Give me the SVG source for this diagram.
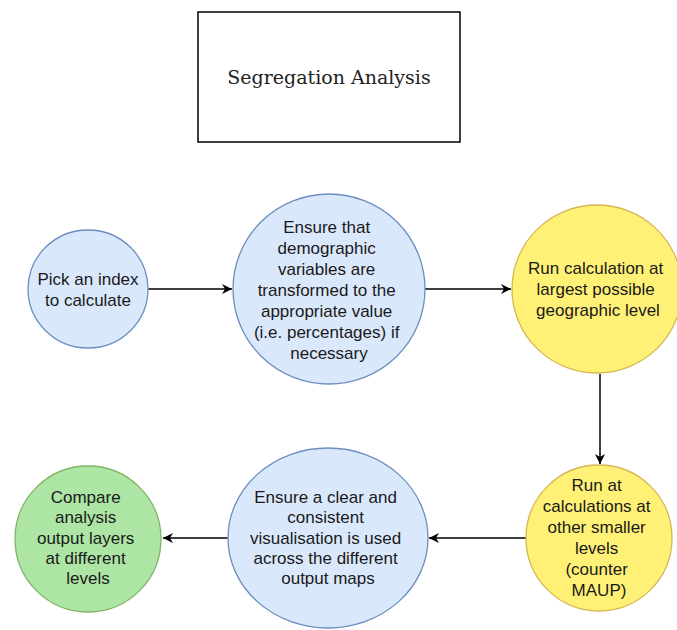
<svg xmlns="http://www.w3.org/2000/svg" width="677" height="630" viewBox="0 0 677 630">
  <style>
    .lbl { font-family: "Liberation Sans", Arial, sans-serif; font-size: 17px; fill: #1a1a1a; text-anchor: middle; }
    .blue { fill: #dae8fc; stroke: #6c8ebf; stroke-width: 1.3; }
    .yellow { fill: #fff176; stroke: #d6b656; stroke-width: 1.3; }
    .green { fill: #ade5a4; stroke: #82b366; stroke-width: 1.3; }
    .edge { fill: none; stroke: #000; stroke-width: 1.5; marker-end: url(#arrow); }
  </style>
  <defs>
    <marker id="arrow" markerUnits="userSpaceOnUse" markerWidth="12" markerHeight="10" refX="10" refY="5" orient="auto">
      <path d="M0,0 L10,5 L0,10 L3,5 Z" fill="#000"/>
    </marker>
  </defs>
  <rect width="677" height="630" fill="#fff"/>

  <g id="title">
    <rect x="198" y="12" width="262" height="130" fill="#fff" stroke="#000" stroke-width="1.5"/>
    <text x="329" y="84" font-family="'DejaVu Serif', Georgia, serif" font-size="19" fill="#222" text-anchor="middle">Segregation Analysis</text>
  </g>

  <g id="connectors">
    <path class="edge" d="M147,289 L232,289"/>
    <path class="edge" d="M424,289 L511,289"/>
    <path class="edge" d="M600,374 L600,464"/>
    <path class="edge" d="M526,538 L429,538"/>
    <path class="edge" d="M228,538 L163,538"/>
  </g>

  <g id="pick-index">
    <ellipse class="blue" cx="88" cy="289" rx="60" ry="59"/>
    <text class="lbl"><tspan x="88" y="285">Pick an index</tspan><tspan x="88" y="306">to calculate</tspan></text>
  </g>

  <g id="ensure-transform">
    <ellipse class="blue" cx="329" cy="289" rx="96" ry="95"/>
    <text class="lbl">
      <tspan x="329" y="233">Ensure that</tspan>
      <tspan x="329" y="254">demographic</tspan>
      <tspan x="329" y="275">variables are</tspan>
      <tspan x="329" y="296">transformed to the</tspan>
      <tspan x="329" y="317">appropriate value</tspan>
      <tspan x="329" y="338">(i.e. percentages) if</tspan>
      <tspan x="329" y="359">necessary</tspan>
    </text>
  </g>

  <g id="run-largest">
    <ellipse class="yellow" cx="597" cy="289" rx="85" ry="84"/>
    <text class="lbl">
      <tspan x="598" y="274">Run calculation at</tspan>
      <tspan x="598" y="295">largest possible</tspan>
      <tspan x="598" y="316">geographic level</tspan>
    </text>
  </g>

  <g id="run-smaller">
    <ellipse class="yellow" cx="599" cy="538" rx="73" ry="73"/>
    <text class="lbl">
      <tspan x="599" y="491">Run at</tspan>
      <tspan x="599" y="512">calculations at</tspan>
      <tspan x="599" y="533">other smaller</tspan>
      <tspan x="599" y="554">levels</tspan>
      <tspan x="599" y="575">(counter</tspan>
      <tspan x="599" y="596">MAUP)</tspan>
    </text>
  </g>

  <g id="ensure-visualisation">
    <ellipse class="blue" cx="328" cy="538" rx="100" ry="90"/>
    <text class="lbl">
      <tspan x="328" y="503">Ensure a clear and</tspan>
      <tspan x="328" y="523">consistent</tspan>
      <tspan x="328" y="544">visualisation is used</tspan>
      <tspan x="328" y="564">across the different</tspan>
      <tspan x="328" y="584">output maps</tspan>
    </text>
  </g>

  <g id="compare-layers">
    <ellipse class="green" cx="88" cy="539" rx="73" ry="73"/>
    <text class="lbl">
      <tspan x="88" y="503">Compare</tspan>
      <tspan x="88" y="523">analysis</tspan>
      <tspan x="88" y="544">output layers</tspan>
      <tspan x="88" y="564">at different</tspan>
      <tspan x="88" y="584">levels</tspan>
    </text>
  </g>
</svg>
